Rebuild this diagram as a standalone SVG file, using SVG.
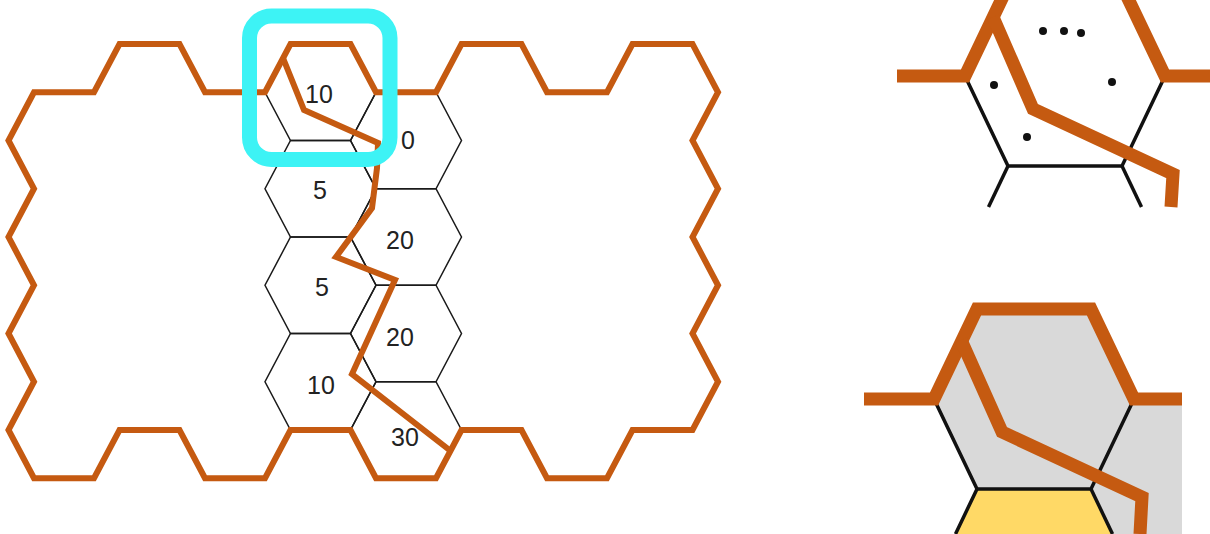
<svg xmlns="http://www.w3.org/2000/svg" width="1210" height="534" viewBox="0 0 1210 534">
<style>
.hex{fill:none;stroke:#1a1a1a;stroke-width:1.5}
.lbl{font-family:"Liberation Sans",Arial,sans-serif;font-size:25px;fill:#222;text-anchor:middle}
.route{fill:none;stroke:#C55A11;stroke-width:6;stroke-linejoin:miter}
.proute{fill:none;stroke:#C55A11;stroke-width:13;stroke-linejoin:miter}
.pline{fill:none;stroke:#111;stroke-width:3.5}
.dot{fill:#111}
</style>
<rect width="1210" height="534" fill="#fff"/>
<g id="cells">
  <g id="c3r0"><polygon class="hex" points="290.5,44 350.5,44 376,92.25 350.5,140.5 290.5,140.5 265,92.25"/><text class="lbl" x="319" y="103">10</text></g>
  <g id="c3r1"><polygon class="hex" points="290.5,140.5 350.5,140.5 376,188.75 350.5,237 290.5,237 265,188.75"/><text class="lbl" x="320" y="199">5</text></g>
  <g id="c3r2"><polygon class="hex" points="290.5,237 350.5,237 376,285.25 350.5,333.5 290.5,333.5 265,285.25"/><text class="lbl" x="322" y="296">5</text></g>
  <g id="c3r3"><polygon class="hex" points="290.5,333.5 350.5,333.5 376,381.75 350.5,430 290.5,430 265,381.75"/><text class="lbl" x="321" y="394">10</text></g>
  <g id="c4r0"><polygon class="hex" points="376,92.25 436,92.25 461.5,140.5 436,188.75 376,188.75 350.5,140.5"/><text class="lbl" x="408" y="149">0</text></g>
  <g id="c4r1"><polygon class="hex" points="376,188.75 436,188.75 461.5,237 436,285.25 376,285.25 350.5,237"/><text class="lbl" x="400" y="249">20</text></g>
  <g id="c4r2"><polygon class="hex" points="376,285.25 436,285.25 461.5,333.5 436,381.75 376,381.75 350.5,333.5"/><text class="lbl" x="400" y="346">20</text></g>
  <g id="c4r3"><polygon class="hex" points="376,381.75 436,381.75 461.5,430 436,478.25 376,478.25 350.5,430"/><text class="lbl" x="405" y="446">30</text></g>
</g>
<g id="connectors">
  <path id="outline" class="route" d="M34,92.25 L94,92.25 L119.5,44 L179.5,44 L205,92.25 L265,92.25 L290.5,44 L350.5,44 L376,92.25 L436,92.25 L461.5,44 L521.5,44 L547,92.25 L607,92.25 L632.5,44 L692.5,44 L718,92.25 L692.5,140.5 L718,188.75 L692.5,237 L718,285.25 L692.5,333.5 L718,381.75 L692.5,430 L632.5,430 L607,478.25 L547,478.25 L521.5,430 L461.5,430 L436,478.25 L376,478.25 L350.5,430 L290.5,430 L265,478.25 L205,478.25 L179.5,430 L119.5,430 L94,478.25 L34,478.25 L8.5,430 L34,381.75 L8.5,333.5 L34,285.25 L8.5,237 L34,188.75 L8.5,140.5 Z"/>
  <polyline id="path" class="route" points="283,58 304,110 378,143 377,168 372,208 336,257 395,280 352,374 452,452"/>
</g>
<g id="focus">
  <rect x="249.5" y="16" width="140.5" height="143.5" rx="22" ry="22" fill="none" stroke="#3DF3F5" stroke-width="15"/>
</g>
<g id="zoom-top">
  <polyline class="pline" points="965,76 1008,166 1122,166 1165,76"/>
  <line class="pline" x1="1008" y1="166" x2="988.5" y2="207"/>
  <line class="pline" x1="1122" y1="166" x2="1141.5" y2="207"/>
  <polyline class="proute" points="897,76 965,76 1008,-14"/>
  <polyline class="proute" points="1122,-14 1165,76 1210,76"/>
  <polyline class="proute" points="993,17 1033,109 1173,174 1171,207"/>
  <circle class="dot" cx="1043" cy="31" r="4"/>
  <circle class="dot" cx="1064" cy="31" r="4"/>
  <circle class="dot" cx="1081" cy="33" r="4"/>
  <circle class="dot" cx="994" cy="85" r="4"/>
  <circle class="dot" cx="1112" cy="82" r="4"/>
  <circle class="dot" cx="1027" cy="137" r="4"/>
</g>
<g id="zoom-bottom">
  <polygon fill="#D9D9D9" points="977,309 1091,309 1134,399 1182,399 1182,534 1112.5,534 1091,489 977,489 934,399"/>
  <polygon fill="#FFD966" points="977,489 1091,489 1112.5,534 955.5,534"/>
  <polyline class="pline" points="955.5,534 977,489 934,399"/>
  <polyline class="pline" points="977,489 1091,489 1134,399"/>
  <line class="pline" x1="1091" y1="489" x2="1112.5" y2="534"/>
  <polyline class="proute" points="864,399 934,399 977,309 1091,309 1134,399 1182,399"/>
  <polyline class="proute" points="961,340 1002,432 1142,497 1140,534"/>
</g>
</svg>
